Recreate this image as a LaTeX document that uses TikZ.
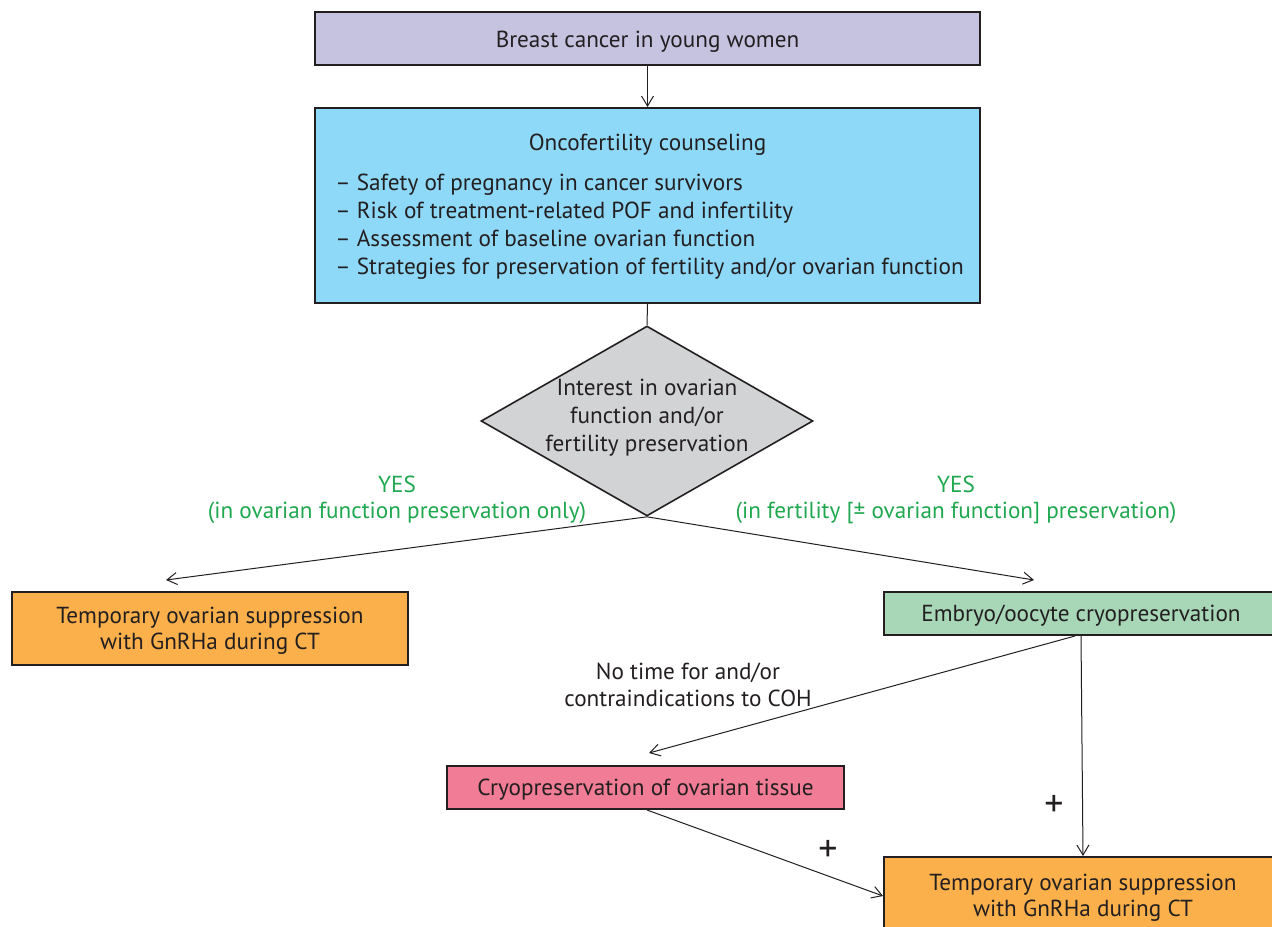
\documentclass[tikz,border=0pt]{standalone}
\usepackage{fontspec}
\setmainfont{PT Sans}
\usetikzlibrary{shapes.geometric,arrows.meta,calc}
\definecolor{ink}{HTML}{231F20}
\definecolor{lav}{HTML}{C6C3E1}
\definecolor{sky}{HTML}{8ED8F8}
\definecolor{grayd}{HTML}{D1D3D4}
\definecolor{orng}{HTML}{FBB04B}
\definecolor{mint}{HTML}{A7D7B7}
\definecolor{rose}{HTML}{F07C95}
\definecolor{yesgreen}{HTML}{1FA84F}
\begin{document}
\begin{tikzpicture}[x=0.5pt,y=-0.5pt,
  every node/.style={font=\fontsize{11.6}{13.2}\selectfont, text=ink, inner sep=0pt},
  boxnode/.style={draw=ink, line width=1pt, rectangle},
  txt/.style={align=center},
  conn/.style={draw=ink, line width=0.5pt},
  arr/.style={conn, -{Straight Barb[length=5pt,width=6pt,line width=0.5pt]}},
  yes/.style={align=center, text=yesgreen},
  plus/.style={font=\fontsize{19}{19}\selectfont}]
\useasboundingbox (0,0) rectangle (1272,926);
\clip (0,0) rectangle (1272,926);
\fill[white] (0,0) rectangle (1272,926);

\node[boxnode, fill=lav, minimum width=332.5pt, minimum height=26.5pt] (top) at (647.5,38.5) {};
\node[txt] (toptext) at (647.5,41.5) {Breast cancer in young women};
\node[boxnode, fill=sky, minimum width=332.5pt, minimum height=97.5pt] (onco) at (647.5,205.5) {};
\node[txt] (otitle) at (647.5,145) {Oncofertility counseling};
\node[align=left, anchor=west, font=\fontsize{11.6}{14}\selectfont] (olist) at (335,227) {-- Safety of pregnancy in cancer survivors\\-- Risk of treatment-related POF and infertility\\-- Assessment of baseline ovarian function\\-- Strategies for preservation of fertility and/or ovarian function};

\node[draw=ink, line width=0.8pt, fill=grayd, diamond, minimum width=166pt, minimum height=95pt] (dia) at (647,421) {};
\node[txt, font=\fontsize{11.6}{14}\selectfont] (dtext) at (647,418) {Interest in ovarian\\function and/or\\fertility preservation};

\node[yes] (yesL) at (397,500) {YES\\(in ovarian function preservation only)};
\node[yes] (yesR) at (956,500) {YES\\(in fertility [± ovarian function] preservation)};

\node[boxnode, fill=orng, minimum width=198pt, minimum height=36.5pt] (lbox) at (210,628.5) {};
\node[txt] (ltext) at (210,631) {Temporary ovarian suppression\\with GnRHa during CT};
\node[boxnode, fill=mint, minimum width=197pt, minimum height=21.5pt] (embryo) at (1081,613.5) {};
\node[txt] (etext) at (1081,616) {Embryo/oocyte cryopreservation};
\node[boxnode, fill=rose, minimum width=198.5pt, minimum height=21.5pt] (pink) at (645.5,787.5) {};
\node[txt] (ptext) at (645.5,790) {Cryopreservation of ovarian tissue};
\node[boxnode, fill=orng, minimum width=199pt, minimum height=39pt] (bbox) at (1083,896) {};
\node[txt] (btext) at (1083,897.5) {Temporary ovarian suppression\\with GnRHa during CT};

\node[txt] (coh) at (688,685) {No time for and/or\\contraindications to COH};
\node[plus] (plusA) at (1054,806) {+};
\node[plus] (plusB) at (828,851) {+};

\coordinate (aL) at (166,580);
\coordinate (aR) at (1034,580);
\coordinate (aP) at (649,753);

\draw[arr] (top.south) -- (onco.north);
\draw[conn] (onco.south) -- (dia.north);
\draw[arr] (dia.south) -- (aL);
\draw[arr] (dia.south) -- (aR);
\draw[arr] ($(embryo.south)+(-6,0)$) -- (aP);
\draw[arr] (embryo.south) -- (bbox.north);
\draw[arr] ($(pink.south)+(1.5,0)$) -- (bbox.west);
\end{tikzpicture}
\end{document}
